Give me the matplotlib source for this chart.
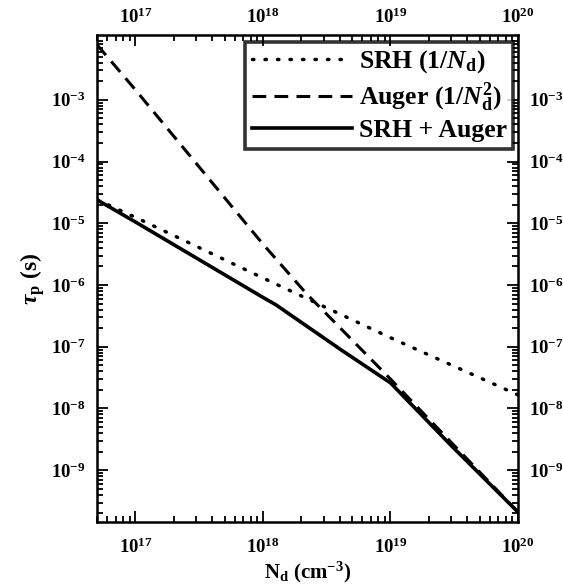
import matplotlib
matplotlib.use("Agg")
import matplotlib.pyplot as plt
from matplotlib.ticker import LogLocator, NullFormatter

plt.rcParams['font.family'] = ['Liberation Serif', 'DejaVu Serif']
plt.rcParams['font.weight'] = 'bold'
plt.rcParams['mathtext.fontset'] = 'custom'
plt.rcParams['mathtext.rm'] = 'Liberation Serif:bold'
plt.rcParams['mathtext.it'] = 'Liberation Serif:italic:bold'
plt.rcParams['mathtext.bf'] = 'Liberation Serif:bold'

# data
nd_srh = [5e16, 1e17, 1e18, 1e19, 1e20]
tau_srh = [2.4e-5, 1.25e-5, 1.3e-6, 1.4e-7, 1.66e-8]

nd_auger = [5e16, 1e17, 1e18, 2.2e18, 1e19, 1e20]
tau_auger = [7.8e-3, 1.45e-3, 4.6e-6, 7.2e-7, 3e-8, 2.1e-10]

nd_total = [5e16, 1e17, 1e18, 1.26e18, 4.1e18, 1e19, 3e19, 1e20]
tau_total = [2.4e-5, 1.05e-5, 6.3e-7, 4.8e-7, 8.9e-8, 2.6e-8, 2.5e-9, 2.1e-10]

labels = [r'SRH (1/$N_\mathrm{d}$)', r'Auger (1/$N_\mathrm{d}^2$)', 'SRH + Auger']

xlim = (5e16, 1e20)

fig = plt.figure(figsize=(5.63, 5.86), dpi=100)
ax = fig.add_axes([97 / 563, 1 - 522 / 586, 421 / 563, 487 / 586])

ax.plot(nd_srh, tau_srh, color='black', lw=2.5, linestyle=(0, (0.4, 3.2)),
        dash_capstyle='round', label=labels[0])
ax.plot(nd_auger, tau_auger, color='black', lw=2.2, linestyle=(0, (4.5, 2.7)),
        label=labels[1])
ax.plot(nd_total, tau_total, color='black', lw=2.6, label=labels[2])

ax.set_xscale('log')
ax.set_yscale('log')
ax.set_xlim(*xlim)
ax.set_ylim(1.45e-10, 1.12e-2)

ax.xaxis.set_major_locator(LogLocator(base=10, numticks=10))
ax.set_yticks([1e-9, 1e-8, 1e-7, 1e-6, 1e-5, 1e-4, 1e-3])
ax.yaxis.set_minor_locator(LogLocator(base=10, subs=range(2, 10), numticks=12))
ax.yaxis.set_minor_formatter(NullFormatter())
ax.xaxis.set_minor_formatter(NullFormatter())

ax.tick_params(which='both', direction='in', right=True, labelright=True,
               labelsize=13.5, width=1.3)
ax.tick_params(which='major', length=8)
ax.tick_params(which='minor', length=4)
ax.tick_params(axis='x', which='major', pad=11)
ax.tick_params(axis='y', which='major', pad=8)
for s in ax.spines.values():
    s.set_linewidth(1.8)

# top axis with its own label spacing
top = ax.twiny()
top.set_xscale('log')
top.set_xlim(*xlim)
top.xaxis.set_major_locator(LogLocator(base=10, numticks=10))
top.xaxis.set_minor_formatter(NullFormatter())
top.tick_params(which='both', direction='in', labelsize=13.5, width=1.3)
top.tick_params(which='major', length=8, pad=6)
top.tick_params(which='minor', length=4)

ax.set_xlabel(r'$\mathrm{N_d}$ (cm$^{-3}$)', fontsize=15, fontweight='bold', labelpad=2)
ax.set_ylabel(r'$\tau_\mathrm{p}$ (s)', fontsize=17, fontweight='bold', labelpad=3)

leg = ax.legend(loc='upper right', fontsize=18.5, frameon=True, fancybox=False,
                edgecolor='black', handlelength=3.9, handletextpad=0.25,
                borderpad=0.25, labelspacing=0.2, borderaxespad=0,
                bbox_to_anchor=(0.988, 0.986))
leg.get_frame().set_linewidth(2.6)
for t in leg.get_texts():
    t.set_fontweight('bold')

fig.savefig('out.png', dpi=100)
